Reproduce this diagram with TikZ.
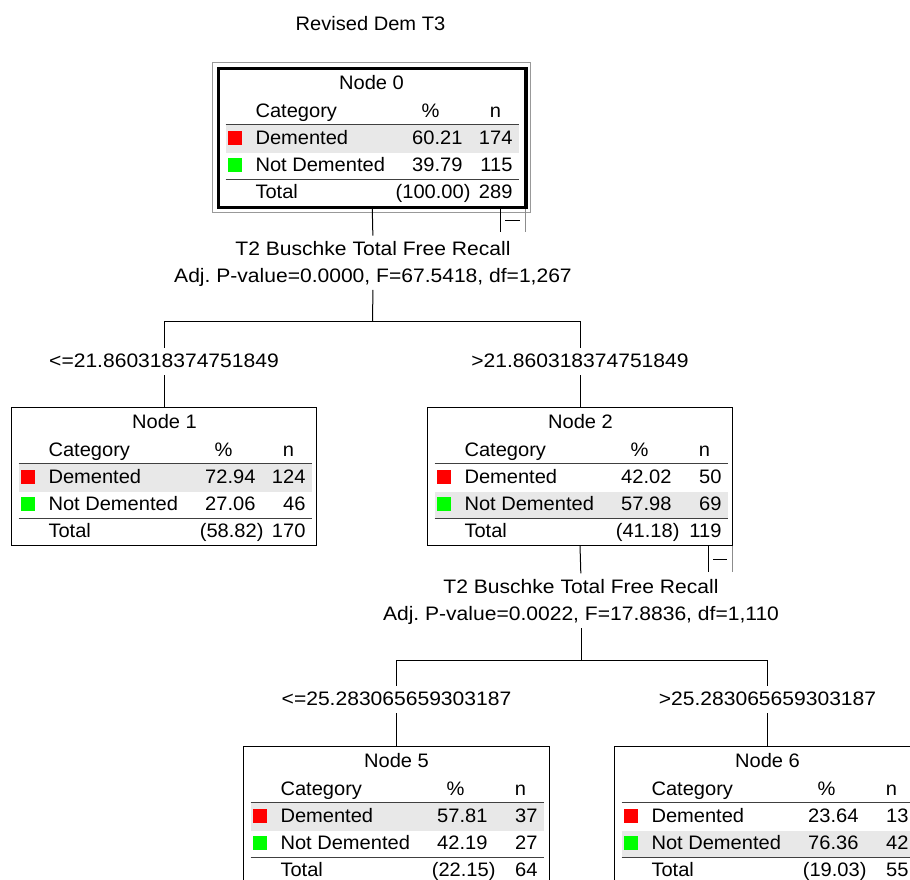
\documentclass[tikz,border=0pt]{standalone}
\usepackage{fontspec}
\setmainfont{Liberation Sans}[FakeStretch=1.03]
\newfontfamily\splitfamily{Liberation Sans}[FakeStretch=1.08]
\usetikzlibrary{calc}
\frenchspacing

\definecolor{demred}{RGB}{255,0,0}
\definecolor{notgreen}{RGB}{0,255,0}
\definecolor{rowshade}{RGB}{232,232,232}
\newcommand\treefont{\fontsize{19.5pt}{22pt}\selectfont}
\newcommand\splitfont{\splitfamily\fontsize{19.5pt}{22pt}\selectfont}

\tikzset{
  txt/.style={inner sep=0pt, outer sep=0pt, font=\treefont},
  splitlbl/.style={txt, font=\splitfont, anchor=base, text height=14pt, text depth=4pt},
  catbox/.style={draw=black, line width=1pt, fill=white, inner sep=0pt, outer sep=0pt,
                 minimum width=305pt, minimum height=138pt, anchor=north west},
  rootbox/.style={catbox, line width=3.5pt, minimum width=307.5pt, minimum height=139pt},
  tablerule/.style={draw=black!75, line width=1pt},
  conn/.style={draw=black, line width=1pt},
  markline/.style={draw=black, line width=1pt},
  markgray/.style={draw=black!45, line width=1pt}
}

% Category table inside box #1:
% #2 title, #3/#4 Demented % and n, #5/#6 Not Demented % and n,
% #7/#8 total % and n, #9 shaded row (1 = Demented, 2 = Not Demented)
\newcommand\cattable[9]{%
  \begin{scope}[shift={(#1.north west)}]
    \ifnum#9=1
      \fill[rowshade] (7,56) rectangle (300,84);
    \else
      \fill[rowshade] (7,84) rectangle (300,111);
    \fi
    \draw[tablerule] (7,56) -- (300,56);
    \draw[tablerule] (7,111) -- (300,111);
    \node[txt, anchor=base] (#1-title) at (153,21) {#2};
    \node[txt, anchor=base west] (#1-cat) at (37,49) {Category};
    \node[txt, anchor=base] (#1-pcth) at (212,49) {\%};
    \node[txt, anchor=base] (#1-nh) at (277,49) {n};
    \fill[demred] (9,62) rectangle (23,76);
    \node[txt, anchor=base west] (#1-dem) at (37,75.5) {Demented};
    \node[txt, anchor=base east] (#1-demp) at (244,75.5) {#3};
    \node[txt, anchor=base east] (#1-demn) at (294,75.5) {#4};
    \fill[notgreen] (9,89) rectangle (23,103);
    \node[txt, anchor=base west] (#1-not) at (37,102.5) {Not Demented};
    \node[txt, anchor=base east] (#1-notp) at (244,102.5) {#5};
    \node[txt, anchor=base east] (#1-notn) at (294,102.5) {#6};
    \node[txt, anchor=base west] (#1-tot) at (37,130) {Total};
    \node[txt, anchor=base east] (#1-totp) at (252,130) {#7};
    \node[txt, anchor=base east] (#1-totn) at (294,130) {#8};
  \end{scope}}

\begin{document}
\begin{tikzpicture}[x=1pt, y=-1pt]
  \clip (0,0) rectangle (910,879);
  \fill[white] (0,0) rectangle (910,879);

  \node[txt, anchor=base] (title) at (370.5,30) {Revised Dem T3};

  % root node with its selection frame
  \draw[black!40, line width=0.8pt] (212.5,62) rectangle (530,212);
  \node[rootbox] (n0) at (218.5,68.5) {};
  \cattable{n0}{Node 0}{60.21}{174}{39.79}{115}{(100.00)}{289}{1}
  \draw[markline] (500,209) -- (500,232);
  \draw[markgray] (525,209) -- (525,232);
  \draw[markline] (505,220) -- (520,220);

  % first split
  \node[splitlbl] (s0a) at (373,255.7) {T2 Buschke Total Free Recall};
  \node[splitlbl] (s0b) at (373,282.3) {Adj. P-value=0.0000, F=67.5418, df=1,267};
  \coordinate (j0) at (372.5,321.5);

  \node[catbox] (n1) at (11.5,407.5) {};
  \node[catbox] (n2) at (427.5,407.5) {};
  \node[splitlbl] (b1) at (n1.north |- 0,367.7) {<=21.860318374751849};
  \node[splitlbl] (b2) at (n2.north |- 0,367.7) {>21.860318374751849};

  \draw[conn, shorten >=6pt] (n0.south) -- (s0a.north);
  \draw[conn, shorten <=3.5pt] (s0b.south) -- (j0);
  \draw[conn, shorten >=6pt] (j0) -| (b1.north);
  \draw[conn, shorten >=6pt] (j0) -| (b2.north);
  \draw[conn, shorten <=3.5pt] (b1.south) -- (n1.north);
  \draw[conn, shorten <=3.5pt] (b2.south) -- (n2.north);

  \cattable{n1}{Node 1}{72.94}{124}{27.06}{46}{(58.82)}{170}{1}
  \cattable{n2}{Node 2}{42.02}{50}{57.98}{69}{(41.18)}{119}{2}
  \draw[markline] (708.5,545.5) -- (708.5,571.5);
  \draw[markgray] (732.5,545.5) -- (732.5,571.5);
  \draw[markline] (713,559) -- (727,559);

  % second split
  \node[splitlbl] (s2a) at (581,593.3) {T2 Buschke Total Free Recall};
  \node[splitlbl] (s2b) at (581,620.7) {Adj. P-value=0.0022, F=17.8836, df=1,110};
  \coordinate (j2) at (581,660);

  \node[catbox, minimum width=306pt] (n5) at (243.5,746.5) {};
  \node[catbox, minimum width=306pt] (n6) at (614.5,746.5) {};
  \node[splitlbl] (b5) at (n5.north |- 0,705.7) {<=25.283065659303187};
  \node[splitlbl] (b6) at (n6.north |- 0,705.7) {>25.283065659303187};

  \draw[conn, shorten >=6pt] (n2.south) -- (s2a.north);
  \draw[conn, shorten <=3.5pt] (s2b.south) -- (j2);
  \draw[conn, shorten >=6pt] (j2) -| (b5.north);
  \draw[conn, shorten >=6pt] (j2) -| (b6.north);
  \draw[conn, shorten <=3.5pt] (b5.south) -- (n5.north);
  \draw[conn, shorten <=3.5pt] (b6.south) -- (n6.north);

  \cattable{n5}{Node 5}{57.81}{37}{42.19}{27}{(22.15)}{64}{1}
  \cattable{n6}{Node 6}{23.64}{13}{76.36}{42}{(19.03)}{55}{2}
\end{tikzpicture}
\end{document}
